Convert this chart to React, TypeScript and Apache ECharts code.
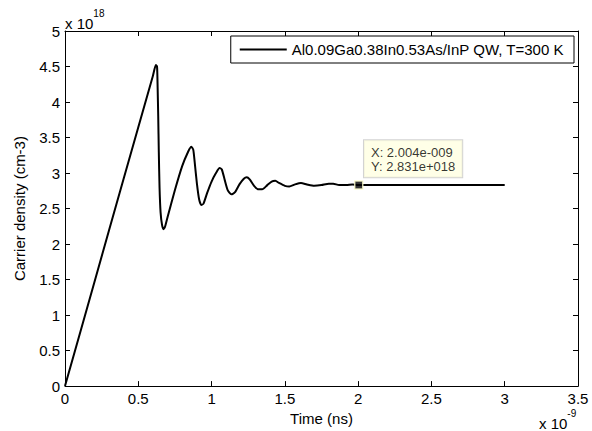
import React, { useEffect, useRef } from "react";
import * as echarts from "echarts";

// Time in ns (axis multiplier x 10^-9), carrier density in 1e18 cm^-3
const timeNs = [
  0, 0.2, 0.4, 0.6, 0.62, 0.628, 0.632, 0.636, 0.64, 0.645, 0.652, 0.662, 0.672, 0.682, 0.7, 0.75, 0.8,
  0.84, 0.862, 0.875, 0.885, 0.9, 0.915, 0.93, 0.945, 0.97, 1.0, 1.03, 1.055, 1.07, 1.09, 1.11, 1.135,
  1.16, 1.19, 1.22, 1.24, 1.26, 1.29, 1.32, 1.345, 1.38, 1.41, 1.435, 1.46, 1.5, 1.53, 1.57, 1.61, 1.65,
  1.7, 1.75, 1.8, 1.83, 1.87, 1.92, 1.96, 2.004, 2.5, 3.0,
];
const density = [
  0, 1.46, 2.92, 4.37, 4.52, 4.5, 4.2, 3.8, 3.3, 2.8, 2.45, 2.27, 2.21, 2.24, 2.38, 2.76, 3.1,
  3.3, 3.37, 3.33, 3.15, 2.85, 2.63, 2.55, 2.57, 2.72, 2.88, 3.0, 3.07, 3.05, 2.9, 2.76, 2.7,
  2.73, 2.84, 2.92, 2.94, 2.91, 2.82, 2.77, 2.77, 2.83, 2.88, 2.89, 2.86, 2.82, 2.81, 2.84, 2.86, 2.84,
  2.82, 2.83, 2.85, 2.85, 2.83, 2.83, 2.84, 2.831, 2.831, 2.831,
];
const dataTip = [2.004, 2.831];
const dataTipText = ["X: 2.004e-009", "Y: 2.831e+018"];
const seriesName = "Al0.09Ga0.38In0.53As/InP QW, T=300 K";
const xTitle = "Time (ns)";
const yTitle = "Carrier density (cm-3)";

const FONT = "Liberation Sans, Arial, sans-serif";

export default function App() {
  const ref = useRef<HTMLDivElement>(null);
  useEffect(() => {
    document.body.style.margin = "0";
    const chart = echarts.init(ref.current!, null, { renderer: "svg" });
    const lineData = timeNs.map((t, i) => [t, density[i]]);
    const tickCommon = { inside: true, length: 5, lineStyle: { color: "#000", width: 1 } };
    const lineCommon = { show: true, onZero: false, lineStyle: { color: "#000", width: 1 } };
    chart.setOption({
      animation: false,
      backgroundColor: "#fff",
      textStyle: { fontFamily: FONT },
      grid: { left: 65, right: 14, top: 31, bottom: 43, containLabel: false },
      legend: {
        data: [{ name: seriesName, icon: "rect" }],
        top: 36,
        right: 18,
        orient: "horizontal",
        backgroundColor: "#fff",
        borderColor: "#000",
        borderWidth: 1,
        padding: [6, 10, 6, 9],
        itemWidth: 47,
        itemHeight: 2,
        itemGap: 5,
        itemStyle: { color: "#000", borderWidth: 0 },
        textStyle: { fontSize: 15, color: "#000", fontFamily: FONT },
      },
      xAxis: [
        {
          type: "value",
          position: "bottom",
          min: 0,
          max: 3.5,
          interval: 0.5,
          axisLine: lineCommon,
          axisTick: tickCommon,
          splitLine: { show: false },
          axisLabel: { color: "#000", fontSize: 15, margin: 5, fontFamily: FONT },
          name: xTitle,
          nameLocation: "middle",
          nameGap: 20,
          nameTextStyle: { color: "#000", fontSize: 15, fontFamily: FONT },
        },
        {
          type: "value",
          position: "top",
          min: 0,
          max: 3.5,
          interval: 0.5,
          axisLine: lineCommon,
          axisTick: tickCommon,
          splitLine: { show: false },
          axisLabel: { show: false },
        },
      ],
      yAxis: [
        {
          type: "value",
          position: "left",
          min: 0,
          max: 5,
          interval: 0.5,
          axisLine: lineCommon,
          axisTick: tickCommon,
          splitLine: { show: false },
          axisLabel: { color: "#000", fontSize: 15, margin: 5, fontFamily: FONT },
          name: yTitle,
          nameLocation: "middle",
          nameGap: 38,
          nameTextStyle: { color: "#000", fontSize: 15, fontFamily: FONT },
        },
        {
          type: "value",
          position: "right",
          min: 0,
          max: 5,
          interval: 0.5,
          axisLine: lineCommon,
          axisTick: tickCommon,
          splitLine: { show: false },
          axisLabel: { show: false },
        },
      ],
      series: [
        {
          name: seriesName,
          type: "line",
          xAxisIndex: 0,
          yAxisIndex: 0,
          data: lineData,
          symbol: "none",
          smooth: 0.2,
          lineStyle: { color: "#000", width: 2 },
          itemStyle: { color: "#000" },
        },
        {
          name: "datatip",
          type: "scatter",
          xAxisIndex: 0,
          yAxisIndex: 0,
          data: [dataTip],
          symbol: "rect",
          symbolSize: 8,
          z: 5,
          itemStyle: { color: "#000", borderColor: "#ffffcc", borderWidth: 1.5 },
          label: {
            show: true,
            formatter: dataTipText.join("\n"),
            position: [10, -40],
            align: "left",
            verticalAlign: "top",
            color: "#000",
            fontSize: 13,
            lineHeight: 14,
            fontFamily: FONT,
            backgroundColor: "#ffffe1",
            borderColor: "#c8c8c8",
            borderWidth: 1,
            padding: [5, 7, 4, 7],
          },
        },
      ],
      graphic: [
        {
          type: "text",
          left: 65,
          top: 8,
          style: {
            text: "{b|x 10}{s|18}",
            rich: {
              b: { fontSize: 15, fontFamily: FONT, fill: "#000", padding: [8, 0, 0, 0] },
              s: { fontSize: 10, fontFamily: FONT, fill: "#000", verticalAlign: "top" },
            },
          },
        },
        {
          type: "text",
          left: 539,
          top: 408,
          style: {
            text: "{b|x 10}{s|-9}",
            rich: {
              b: { fontSize: 15, fontFamily: FONT, fill: "#000", padding: [8, 0, 0, 0] },
              s: { fontSize: 10, fontFamily: FONT, fill: "#000", verticalAlign: "top" },
            },
          },
        },
      ],
    });
    return () => chart.dispose();
  }, []);
  return <div ref={ref} style={{ width: 592, height: 431 }} />;
}
